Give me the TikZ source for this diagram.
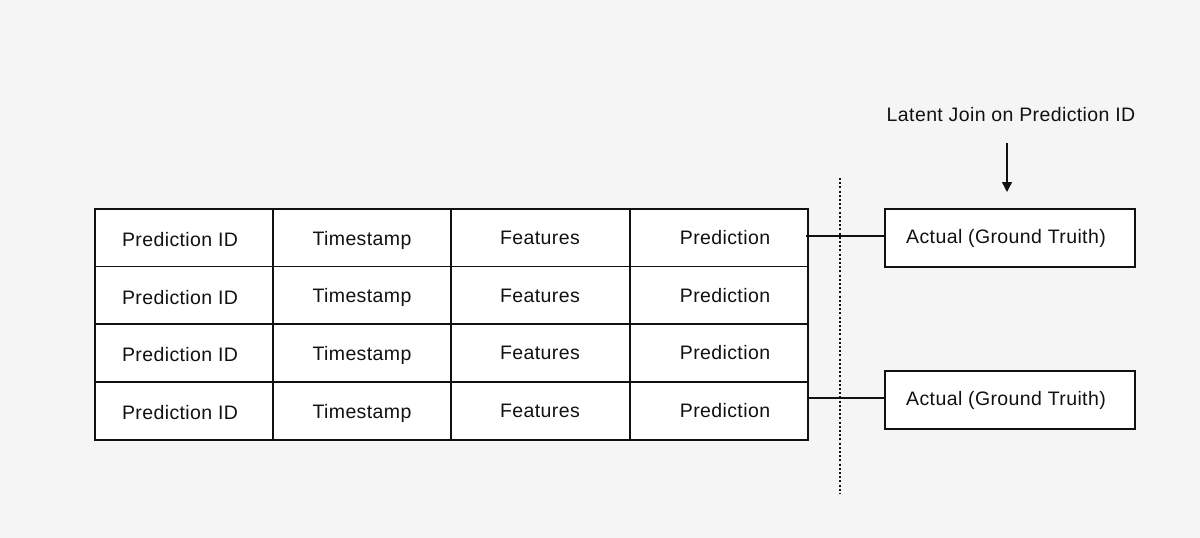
\documentclass[tikz,border=0pt]{standalone}
\usepackage{fontspec}
\setmainfont{Liberation Sans}[LetterSpace=2]
\usetikzlibrary{arrows.meta}
\definecolor{bg}{HTML}{F5F5F5}
\definecolor{ink}{HTML}{111111}
\begin{document}
\begin{tikzpicture}[x=1pt,y=-1pt,
  cell/.style={draw=ink,line width=1.3pt,fill=white,minimum width=178pt,minimum height=58pt,inner sep=0pt,outer sep=0pt},
  actualbox/.style={draw=ink,line width=1.3pt,fill=white,minimum width=250pt,minimum height=58pt,inner sep=0pt,outer sep=0pt},
  lbl/.style={font=\fontsize{19.5}{21}\selectfont,text=ink,inner sep=0pt},
  conn/.style={draw=ink,line width=1.2pt}]
\useasboundingbox[fill=bg] (0,0) rectangle (1200,538);
% table cells
\foreach \r/\y in {1/238,2/295.5,3/353,4/411}{
  \node[cell,minimum width=178pt] (c1\r) at (184,\y) {};
  \node[cell,minimum width=178pt] (c2\r) at (362,\y) {};
  \node[cell,minimum width=179pt] (c3\r) at (540.5,\y) {};
  \node[cell,minimum width=178pt] (c4\r) at (719,\y) {};
  \node[lbl] (t1\r) at (180,\y+2) {Prediction ID};
  \node[lbl] (t2\r) at (362,\y+2) {Timestamp};
  \node[lbl] (t3\r) at (540,\y) {Features};
  \node[lbl] (t4\r) at (725,\y) {Prediction};
}
% actual boxes
\node[actualbox] (a1) at (1010,238) {};
\node[lbl] at (1006,238) {Actual (Ground Truith)};
\node[actualbox] (a2) at (1010,400) {};
\node[lbl] at (1006,400) {Actual (Ground Truith)};
% dotted separator
\coordinate (dtop) at (840,178);
\coordinate (dbot) at (840,494);
\draw[ink,line width=1.5pt,dash pattern=on 2pt off 2.2pt] (dtop) -- (dbot);
% connectors
\coordinate (s1) at (806,236);
\draw[conn] (s1) -- (a1.west |- s1);
\draw[conn] (c44.east |- 0,398) -- (a2.west |- 0,398);
% latent join label and arrow
\node[lbl] (lj) at (1011,115) {Latent Join on Prediction ID};
\coordinate (atop) at (1007,143);
\coordinate (abot) at (1007,192);
\draw[ink,line width=1.4pt,-{Triangle[width=10pt,length=10pt]}] (atop) -- (abot);
\end{tikzpicture}
\end{document}
